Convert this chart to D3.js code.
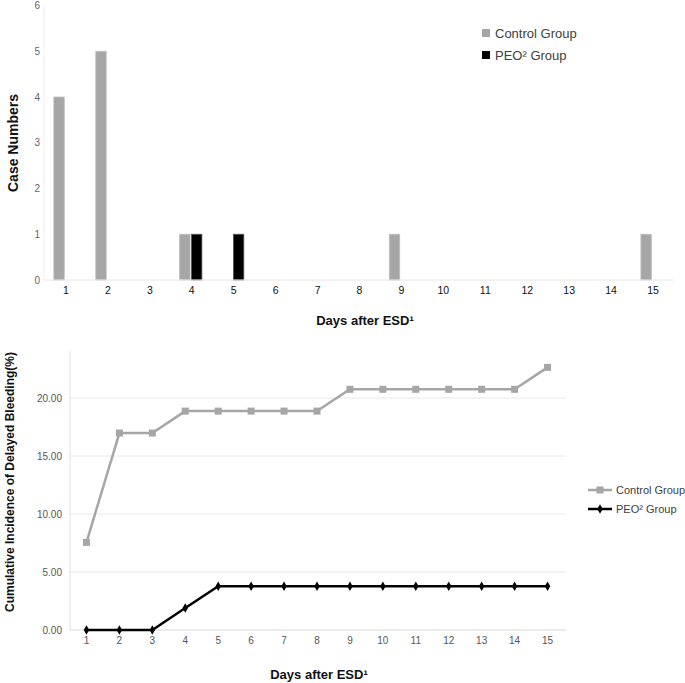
<!DOCTYPE html>
<html><head><meta charset="utf-8">
<script src="https://cdn.jsdelivr.net/npm/d3@7"></script>
<style>body{margin:0;background:#fff;}svg{display:block;font-family:Arial,"Liberation Sans",sans-serif;}</style>
</head><body><svg id="c" width="685" height="683"></svg>
<script>
const days = [1,2,3,4,5,6,7,8,9,10,11,12,13,14,15];
const seriesNames = ["Control Group","PEO² Group"];
const controlCases = [4,5,0,1,0,0,0,0,1,0,0,0,0,0,1];
const peoCases     = [0,0,0,1,1,0,0,0,0,0,0,0,0,0,0];
const caseTicks = [0,1,2,3,4,5,6];
const controlCum = [7.55,16.98,16.98,18.87,18.87,18.87,18.87,18.87,20.75,20.75,20.75,20.75,20.75,20.75,22.64];
const peoCum     = [0,0,0,1.89,3.77,3.77,3.77,3.77,3.77,3.77,3.77,3.77,3.77,3.77,3.77];
const cumTicks = [0,5,10,15,20];
const xTitle = "Days after ESD¹";

const GRAY = "#a6a6a6", BLACK = "#000";
const svg = d3.select("#c");

// ---------- Top bar chart ----------
const x0 = d3.scaleBand().domain(days).range([44,673]).paddingInner(0.47).paddingOuter(0.235);
const x1 = d3.scaleBand().domain(seriesNames).range([0, x0.bandwidth()]).paddingInner(0.12);
const y0 = d3.scaleLinear().domain([0,6]).range([280,5.5]);
const gTop = svg.append("g");

gTop.append("line").attr("x1",44).attr("x2",44).attr("y1",y0(6)).attr("y2",y0(0)).attr("stroke","#f0f0f0");
const barData = [];
days.forEach((d,i)=>{
  barData.push({day:d, s:seriesNames[0], v:controlCases[i]});
  barData.push({day:d, s:seriesNames[1], v:peoCases[i]});
});
gTop.selectAll("rect.bar").data(barData.filter(d=>d.v>0)).join("rect")
  .attr("x",d=>x0(d.day)+x1(d.s)).attr("width",x1.bandwidth())
  .attr("y",d=>y0(d.v)).attr("height",d=>y0(0)-y0(d.v))
  .attr("fill",d=>d.s===seriesNames[0]?GRAY:BLACK)
  .attr("stroke",d=>d.s===seriesNames[0]?"#bdbdbd":"#555").attr("stroke-width",0.8);
gTop.append("line").attr("x1",44).attr("x2",673).attr("y1",y0(0)).attr("y2",y0(0)).attr("stroke","#e6e6e6");

const yAx0 = d3.axisLeft(y0).tickValues(caseTicks).tickSize(0).tickPadding(0).tickFormat(d3.format("d"));
gTop.append("g").attr("transform","translate(40,0)").call(yAx0)
  .call(g=>g.select(".domain").remove())
  .selectAll("text").attr("fill","#666").style("font-size","10px").attr("font-family","Arial, sans-serif");
const xAx0 = d3.axisBottom(x0).tickSize(0).tickPadding(0);
gTop.append("g").attr("transform","translate(1,287)").call(xAx0)
  .call(g=>g.select(".domain").remove())
  .selectAll("text").attr("fill","#111").style("font-size","10.5px").attr("font-family","Arial, sans-serif");

gTop.append("text").attr("x",365).attr("y",325).attr("text-anchor","middle")
  .attr("font-weight","bold").attr("font-size","13px").attr("fill","#111").text(xTitle);
gTop.append("text").attr("transform","translate(18,143) rotate(-90)").attr("text-anchor","middle")
  .attr("font-weight","bold").attr("font-size","14px").attr("fill","#111").text("Case Numbers");

const lg0 = gTop.append("g").attr("transform","translate(482,28)");
seriesNames.forEach((s,i)=>{
  const g = lg0.append("g").attr("transform",`translate(0,${i*22})`);
  g.append("rect").attr("width",8).attr("height",8).attr("y",1).attr("fill",i?BLACK:GRAY);
  g.append("text").attr("x",13).attr("y",9.5).attr("font-size","13px").attr("fill","#404040").text(s);
});

// ---------- Bottom line chart ----------
const xb = d3.scaleBand().domain(days).range([70,564]);
const xc = d => xb(d)+xb.bandwidth()/2;
const yb = d3.scaleLinear().domain([0,5]).range([630,572]);
const ybTop = 351;
const gBot = svg.append("g");

gBot.selectAll("line.grid").data(cumTicks).join("line")
  .attr("x1",70).attr("x2",566).attr("y1",d=>yb(d)).attr("y2",d=>yb(d))
  .attr("stroke",d=>d===0?"#d9d9d9":"#e8e8e8");
gBot.append("line").attr("x1",70).attr("x2",70).attr("y1",ybTop).attr("y2",630).attr("stroke","#e0e0e0");

const yAxB = d3.axisLeft(yb).tickValues(cumTicks).tickSize(0).tickPadding(0).tickFormat(d3.format(".2f"));
gBot.append("g").attr("transform","translate(62,0)").call(yAxB)
  .call(g=>g.select(".domain").remove())
  .selectAll("text").attr("fill","#555").style("font-size","10px").attr("font-family","Arial, sans-serif");
const xAxB = d3.axisBottom(xb).tickSize(0).tickPadding(0);
gBot.append("g").attr("transform","translate(0,637)").call(xAxB)
  .call(g=>g.select(".domain").remove())
  .selectAll("text").attr("fill","#555").style("font-size","10px").attr("font-family","Arial, sans-serif");

const line = d3.line().x((d,i)=>xc(days[i])).y(d=>yb(d));
gBot.append("path").datum(controlCum).attr("d",line).attr("fill","none").attr("stroke",GRAY).attr("stroke-width",2.5);
gBot.selectAll("rect.m").data(controlCum).join("rect")
  .attr("x",(d,i)=>xc(days[i])-3.5).attr("y",d=>yb(d)-3.5).attr("width",7).attr("height",7).attr("fill",GRAY);
gBot.append("path").datum(peoCum).attr("d",line).attr("fill","none").attr("stroke",BLACK).attr("stroke-width",2.5);
gBot.selectAll("path.m").data(peoCum).join("path")
  .attr("d",d3.symbol().type(d3.symbolDiamond).size(26))
  .attr("transform",(d,i)=>`translate(${xc(days[i])},${yb(d)})`).attr("fill",BLACK);

gBot.append("text").attr("x",319).attr("y",679).attr("text-anchor","middle")
  .attr("font-weight","bold").attr("font-size","13px").attr("fill","#111").text(xTitle);
gBot.append("text").attr("transform","translate(14,482) rotate(-90)").attr("text-anchor","middle")
  .attr("font-weight","bold").attr("font-size","12px").attr("fill","#111").text("Cumulative Incidence of Delayed Bleeding(%)");

const lg1 = gBot.append("g").attr("transform","translate(588,490)");
seriesNames.forEach((s,i)=>{
  const g = lg1.append("g").attr("transform",`translate(0,${i*19})`);
  g.append("line").attr("x1",0).attr("x2",24).attr("stroke",i?BLACK:GRAY).attr("stroke-width",2.5);
  if(i) g.append("path").attr("d",d3.symbol().type(d3.symbolDiamond).size(26)).attr("transform","translate(12,0)");
  else g.append("rect").attr("x",8.5).attr("y",-3.5).attr("width",7).attr("height",7).attr("fill",GRAY);
  g.append("text").attr("x",28).attr("y",4).attr("font-size","11px").attr("fill","#404040").text(s);
});
</script></body></html>
